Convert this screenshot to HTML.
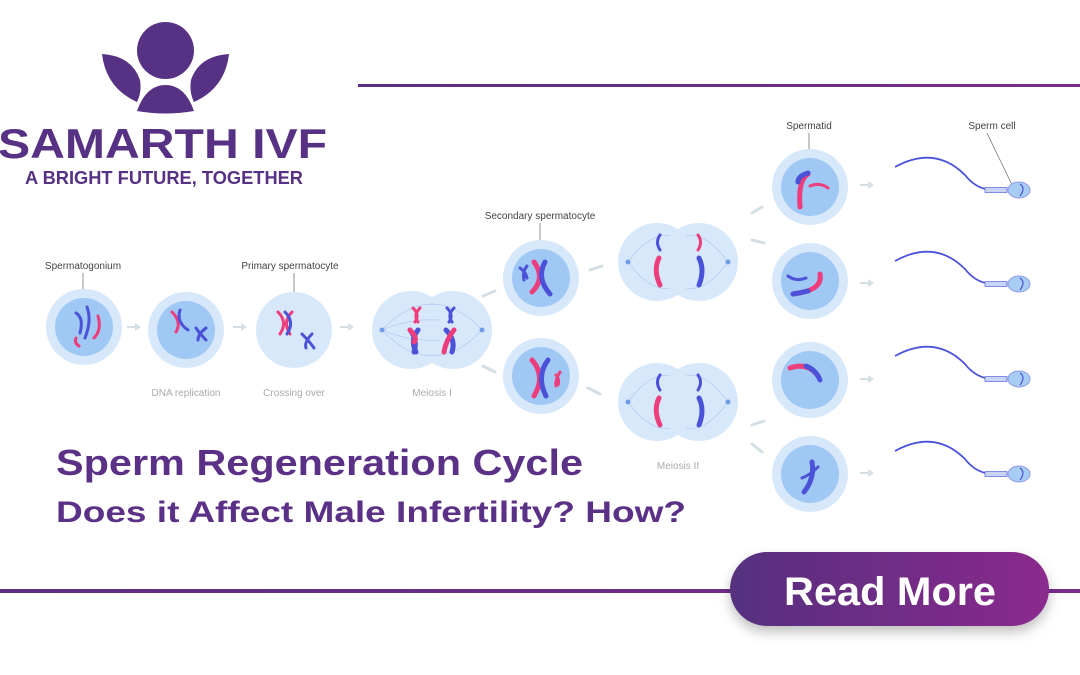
<!DOCTYPE html>
<html><head><meta charset="utf-8"><style>
html,body{margin:0;padding:0;background:#fff;}
svg{display:block;}
text{font-family:"Liberation Sans",sans-serif;}
</style></head><body>
<svg width="1080" height="675" viewBox="0 0 1080 675" xmlns="http://www.w3.org/2000/svg">
<defs>
<linearGradient id="ln" x1="0" x2="1"><stop offset="0" stop-color="#5b2d86"/><stop offset="1" stop-color="#7a2c8c"/></linearGradient>
<linearGradient id="btn" x1="0" x2="1"><stop offset="0" stop-color="#55307f"/><stop offset="1" stop-color="#8a2a8c"/></linearGradient>
<filter id="sh" x="-20%" y="-30%" width="140%" height="170%"><feDropShadow dx="0" dy="6" stdDeviation="6" flood-color="#000" flood-opacity="0.25"/></filter>
</defs>
<!-- logo -->
<g fill="#563184">
<circle cx="165.5" cy="50.5" r="28.5"/>
<path d="M102,54 Q132,56 140,80 Q142,92 137,102 Q106,88 102,54 Z"/>
<path d="M229,54 Q199,56 191,80 Q189,92 194,102 Q225,88 229,54 Z"/>
<path d="M137,111 Q146,85 165.5,85 Q185,85 194,111 Q165.5,116 137,111 Z"/>
</g>
<text x="-2" y="158" font-size="42" font-weight="bold" fill="#563184" textLength="329" lengthAdjust="spacingAndGlyphs">SAMARTH IVF</text>
<text x="25" y="184" font-size="18" font-weight="bold" fill="#563184" textLength="278" lengthAdjust="spacingAndGlyphs">A BRIGHT FUTURE, TOGETHER</text>
<!-- lines -->
<rect x="358" y="84" width="722" height="3" fill="url(#ln)"/>
<rect x="0" y="589" width="1080" height="4" fill="url(#ln)"/>

<!-- labels -->
<g font-size="10" fill="#444" text-anchor="middle">
<text x="83" y="269">Spermatogonium</text>
<text x="290" y="269">Primary spermatocyte</text>
<text x="540" y="219">Secondary spermatocyte</text>
<text x="809" y="129">Spermatid</text>
<text x="992" y="129">Sperm cell</text>
</g>
<g font-size="10" fill="#aaa" text-anchor="middle">
<text x="186" y="396">DNA replication</text>
<text x="294" y="396">Crossing over</text>
<text x="432" y="396">Meiosis I</text>
<text x="678" y="469">Meiosis II</text>
</g>
<g stroke="#777" stroke-width="0.8">
<line x1="83" y1="273" x2="83" y2="300"/>
<line x1="294" y1="273" x2="294" y2="292"/>
<line x1="540" y1="223" x2="540" y2="244"/>
<line x1="809" y1="133" x2="809" y2="152"/>
<line x1="987" y1="133" x2="1013" y2="187"/>
</g>

<!-- arrows -->
<g fill="#d3dfe4">
<path d="M127,326 h8 v-3 l6,4 -6,4 v-3 h-8z"/>
<path d="M233,326 h8 v-3 l6,4 -6,4 v-3 h-8z"/>
<path d="M340,326 h8 v-3 l6,4 -6,4 v-3 h-8z"/>
<path d="M860,184 h8 v-3 l6,4 -6,4 v-3 h-8z"/>
<path d="M860,282 h8 v-3 l6,4 -6,4 v-3 h-8z"/>
<path d="M860,378 h8 v-3 l6,4 -6,4 v-3 h-8z"/>
<path d="M860,472 h8 v-3 l6,4 -6,4 v-3 h-8z"/>
</g>
<g stroke="#d3dfe4" stroke-width="3" fill="none" stroke-linecap="round">
<path d="M483,296 L495,291"/><path d="M483,366 L495,372"/>
<path d="M590,270 L602,266"/><path d="M588,388 L600,394"/>
<path d="M752,213 L762,207"/><path d="M752,240 L764,243"/>
<path d="M752,425 L764,421"/><path d="M752,444 L762,452"/>
</g>

<!-- cells -->
<g>
<circle cx="84" cy="327" r="38" fill="#d8e8fb"/><circle cx="84" cy="327" r="29" fill="#a0c8f5"/>
<circle cx="186" cy="330" r="38" fill="#d8e8fb"/><circle cx="186" cy="330" r="29" fill="#a0c8f5"/>
<circle cx="294" cy="330" r="38" fill="#d8e8fb"/>
<circle cx="411" cy="330" r="39" fill="#d8e8fb"/><circle cx="453" cy="330" r="39" fill="#d8e8fb"/>
<circle cx="541" cy="278" r="38" fill="#d8e8fb"/><circle cx="541" cy="278" r="29" fill="#a0c8f5"/>
<circle cx="541" cy="376" r="38" fill="#d8e8fb"/><circle cx="541" cy="376" r="29" fill="#a0c8f5"/>
<circle cx="657" cy="262" r="39" fill="#d8e8fb"/><circle cx="699" cy="262" r="39" fill="#d8e8fb"/>
<circle cx="657" cy="402" r="39" fill="#d8e8fb"/><circle cx="699" cy="402" r="39" fill="#d8e8fb"/>
<circle cx="810" cy="187" r="38" fill="#d8e8fb"/><circle cx="810" cy="187" r="29" fill="#a0c8f5"/>
<circle cx="810" cy="281" r="38" fill="#d8e8fb"/><circle cx="810" cy="281" r="29" fill="#a0c8f5"/>
<circle cx="810" cy="380" r="38" fill="#d8e8fb"/><circle cx="810" cy="380" r="29" fill="#a0c8f5"/>
<circle cx="810" cy="474" r="38" fill="#d8e8fb"/><circle cx="810" cy="474" r="29" fill="#a0c8f5"/>
</g>
<!-- spindle lines -->
<g stroke="#b4cdf0" stroke-width="0.8" fill="none">
<path d="M382,330 Q410,300 440,305"/><path d="M382,330 Q410,360 440,355"/><path d="M382,330 Q410,318 440,320"/><path d="M382,330 Q410,342 440,340"/>
<path d="M482,330 Q454,300 424,305"/><path d="M482,330 Q454,360 424,355"/>
<path d="M628,262 Q650,232 670,236"/><path d="M628,262 Q650,292 670,288"/><path d="M728,262 Q706,232 686,236"/><path d="M728,262 Q706,292 686,288"/>
<path d="M628,402 Q650,372 670,376"/><path d="M628,402 Q650,432 670,428"/><path d="M728,402 Q706,372 686,376"/><path d="M728,402 Q706,432 686,428"/>
</g>
<g fill="#6f9be8">
<circle cx="382" cy="330" r="2.5"/><circle cx="482" cy="330" r="2.5"/>
<circle cx="628" cy="262" r="2.5"/><circle cx="728" cy="262" r="2.5"/>
<circle cx="628" cy="402" r="2.5"/><circle cx="728" cy="402" r="2.5"/>
</g>

<!-- chromosomes -->
<g fill="none" stroke-linecap="round">
<g stroke-width="3">
<path d="M76,313 Q84,318 80,333" stroke="#4b52d8"/><path d="M87,307 Q92,320 85,338" stroke="#4b52d8"/>
<path d="M76,338 Q74,343 79,346" stroke="#ee3d7c"/><path d="M98,316 Q102,330 94,338" stroke="#ee3d7c"/>
<path d="M172,312 Q182,322 176,332" stroke="#ee3d7c"/><path d="M180,310 Q176,322 188,330" stroke="#4b52d8"/>
<path d="M196,328 Q200,334 206,340 M206,328 Q198,334 198,340" stroke="#4b52d8"/>
<path d="M278,312 Q288,322 280,334 M292,312 Q282,322 290,334" stroke="#ee3d7c"/>
<path d="M285,312 Q295,322 287,334" stroke="#4b52d8"/>
<path d="M302,334 Q310,342 314,348 M312,334 Q304,342 306,348" stroke="#4b52d8"/>
<path d="M413,308 Q420,315 415,322 M420,308 Q413,315 418,322" stroke="#ee3d7c"/>
<path d="M447,308 Q454,315 449,322 M454,308 Q447,315 452,322" stroke="#4b52d8"/>
<path d="M520,268 Q526,272 527,278 M527,266 Q522,272 524,280" stroke="#4b52d8"/>
<path d="M556,375 Q560,380 558,385 M560,372 Q555,380 556,386" stroke="#ee3d7c"/>
<path d="M660,235 Q655,242 660,250" stroke="#4b52d8"/><path d="M698,235 Q703,242 698,250" stroke="#ee3d7c"/>
<path d="M660,375 Q655,382 660,390" stroke="#4b52d8"/><path d="M698,375 Q703,382 698,390" stroke="#4b52d8"/>
<path d="M810,186 Q820,182 828,188" stroke="#ee3d7c"/>
<path d="M788,276 Q796,282 806,278" stroke="#4b52d8"/>
<path d="M818,467 Q810,475 802,478" stroke="#4b52d8"/>
</g>
<g stroke-width="5">
<path d="M410,330 Q418,340 414,352 M418,330 Q410,340 416,352" stroke="#4b52d8"/>
<path d="M410,330 Q418,338 414,342" stroke="#ee3d7c"/>
<path d="M446,330 Q456,340 452,352" stroke="#4b52d8"/><path d="M454,330 Q446,340 444,352" stroke="#ee3d7c"/>
<path d="M534,262 Q546,278 532,292" stroke="#ee3d7c"/><path d="M545,262 Q536,278 550,294" stroke="#4b52d8"/>
<path d="M532,360 Q546,376 534,396" stroke="#ee3d7c"/><path d="M548,360 Q536,376 546,396" stroke="#4b52d8"/>
<path d="M659,258 Q653,270 660,285" stroke="#ee3d7c"/><path d="M699,258 Q705,270 699,285" stroke="#4b52d8"/>
<path d="M659,398 Q653,410 660,425" stroke="#ee3d7c"/><path d="M699,398 Q705,410 699,425" stroke="#4b52d8"/>
<path d="M808,174 Q798,180 800,207" stroke="#ee3d7c"/><path d="M808,173 Q798,176 798,182" stroke="#4b52d8"/>
<path d="M793,294 Q806,292 810,290 Q822,285 820,274" stroke="#ee3d7c"/><path d="M793,294 Q800,293 808,291" stroke="#4b52d8"/>
<path d="M790,368 Q808,362 818,376" stroke="#ee3d7c"/><path d="M806,366 Q816,370 820,380" stroke="#4b52d8"/>
<path d="M812,462 Q815,478 804,492" stroke="#4b52d8"/>
</g>
</g>

<!-- sperm cells -->
<g id="sp1">
<path d="M895,167 Q935,145 965,175 Q975,188 990,190" stroke="#4b52d8" stroke-width="1.8" fill="none"/>
<rect x="985" y="187.5" width="22" height="5" fill="#c9d4f5" stroke="#5a63d8" stroke-width="0.7"/>
<ellipse cx="1019" cy="190" rx="11" ry="8" fill="#a7cdf5" stroke="#8f9ae6" stroke-width="1"/>
<path d="M1020,184 Q1026,188 1020,196" stroke="#4b52d8" stroke-width="1.2" fill="none"/>
</g>
<use href="#sp1" x="0" y="94"/>
<use href="#sp1" x="0" y="189"/>
<use href="#sp1" x="0" y="284"/>

<!-- title -->
<text x="56" y="475" font-size="36" font-weight="bold" fill="#5b3187" textLength="527" lengthAdjust="spacingAndGlyphs">Sperm Regeneration Cycle</text>
<text x="56" y="522" font-size="30" font-weight="bold" fill="#5b3187" textLength="630" lengthAdjust="spacingAndGlyphs">Does it Affect Male Infertility?  How?</text>

<!-- button -->
<rect x="730" y="552" width="319" height="74" rx="37" fill="url(#btn)" filter="url(#sh)"/>
<text x="890" y="605" font-size="40" font-weight="bold" fill="#fff" text-anchor="middle" textLength="212" lengthAdjust="spacingAndGlyphs">Read More</text>
</svg>
</body></html>
